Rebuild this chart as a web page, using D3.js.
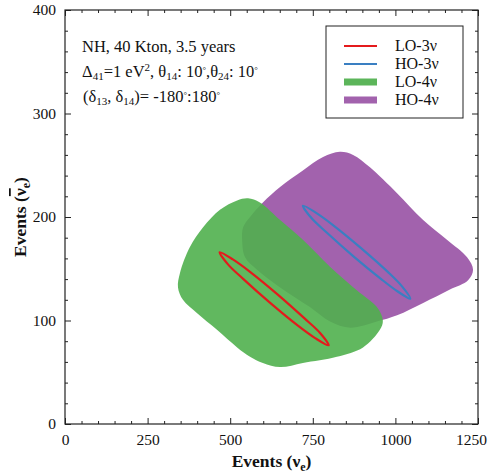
<!DOCTYPE html>
<html>
<head>
<meta charset="utf-8">
<script src="https://cdn.jsdelivr.net/npm/d3@7"></script>
<style>
  body { margin: 0; background: #fff; }
  text { font-family: "Liberation Serif", serif; fill: #111; }
</style>
</head>
<body>
<svg id="chart"></svg>
<script>
// Chart size
const width = 488, height = 473;
const margin = {top: 10, right: 10, bottom: 49, left: 65};

// Axis settings
const xDomain = [0, 1250], yDomain = [0, 400];
const xTicks = [0, 250, 500, 750, 1000, 1250];
const yTicks = [0, 100, 200, 300, 400];

// Region boundaries (events nu_e, events anti-nu_e)
const ho4Boundary = [
  [832, 263], [872, 260], [923, 248], [1005, 223], [1084, 197], [1156, 178],
  [1217, 161], [1235, 149], [1220, 139], [1165, 130], [1084, 117], [1005, 105],
  [944, 99], [863, 93], [802, 99], [741, 113], [651, 132], [581, 149],
  [545, 161], [536, 178], [539, 190], [560, 200], [599, 214], [651, 229],
  [720, 245], [781, 258]
];
const lo4Boundary = [
  [554, 218], [590, 214], [651, 197], [720, 178], [802, 152], [884, 129],
  [944, 113], [962, 100], [953, 91], [902, 74], [823, 65], [720, 59],
  [651, 55], [599, 59], [560, 65], [521, 74], [460, 91], [400, 107],
  [357, 120], [342, 132], [348, 146], [378, 171], [418, 190], [469, 207],
  [521, 216]
];
const lo3Boundary = [
  [468, 166], [508, 159], [560, 147], [644, 125], [725, 102], [772, 88],
  [798, 76], [757, 83], [705, 95], [621, 117], [540, 140], [494, 154]
];
const ho3Boundary = [
  [720, 211], [760, 204], [812, 192], [896, 170], [977, 147], [1020, 133],
  [1045, 121], [1007, 128], [957, 140], [873, 162], [792, 185], [746, 199]
];

// Legend entries
const legendLabels = ["LO-3\u03bd", "HO-3\u03bd", "LO-4\u03bd", "HO-4\u03bd"];
const legendColors = ["#e41a1c", "#3a7fc2", "#5cb55a", "#a262ad"];

const svg = d3.select("#chart")
    .attr("width", width)
    .attr("height", height);

const x = d3.scaleLinear().domain(xDomain).range([margin.left, width - margin.right]);
const y = d3.scaleLinear().domain(yDomain).range([height - margin.bottom, margin.top]);

const area = d3.line()
    .x(d => x(d[0]))
    .y(d => y(d[1]))
    .curve(d3.curveCatmullRomClosed.alpha(0.5));

// Filled regions: purple under green
svg.append("path")
    .attr("d", area(ho4Boundary))
    .attr("fill", "#a262ad");
svg.append("path")
    .attr("d", area(lo4Boundary))
    .attr("fill", "rgb(80,176,78)")
    .attr("opacity", 0.9);

// 3-flavour contours
svg.append("path")
    .attr("d", area(ho3Boundary))
    .attr("fill", "none")
    .attr("stroke", legendColors[1])
    .attr("stroke-width", 2.2);
svg.append("path")
    .attr("d", area(lo3Boundary))
    .attr("fill", "none")
    .attr("stroke", legendColors[0])
    .attr("stroke-width", 2.2);

// Axes with inward ticks on all four sides
const x0 = x(xDomain[0]), x1 = x(xDomain[1]);
const y0 = y(yDomain[0]), y1 = y(yDomain[1]);

const xMinor = d3.range(0, 1251, 50).filter(v => v % 250 !== 0);
const yMinor = d3.range(0, 401, 20).filter(v => v % 100 !== 0);

svg.append("g").attr("transform", `translate(0,${y0})`)
    .call(d3.axisBottom(x).tickValues(xTicks).tickSize(-6).tickPadding(10).tickFormat(d3.format("d")));
svg.append("g").attr("transform", `translate(0,${y0})`)
    .call(d3.axisBottom(x).tickValues(xMinor).tickSize(-3).tickFormat(""));
svg.append("g").attr("transform", `translate(0,${y1})`)
    .call(d3.axisTop(x).tickValues(xTicks).tickSize(-6).tickFormat(""));
svg.append("g").attr("transform", `translate(0,${y1})`)
    .call(d3.axisTop(x).tickValues(xMinor).tickSize(-3).tickFormat(""));

svg.append("g").attr("transform", `translate(${x0},0)`)
    .call(d3.axisLeft(y).tickValues(yTicks).tickSize(-6).tickPadding(9));
svg.append("g").attr("transform", `translate(${x0},0)`)
    .call(d3.axisLeft(y).tickValues(yMinor).tickSize(-3).tickFormat(""));
svg.append("g").attr("transform", `translate(${x1},0)`)
    .call(d3.axisRight(y).tickValues(yTicks).tickSize(-6).tickFormat(""));
svg.append("g").attr("transform", `translate(${x1},0)`)
    .call(d3.axisRight(y).tickValues(yMinor).tickSize(-3).tickFormat(""));

svg.selectAll(".domain").remove();
svg.selectAll(".tick line").attr("stroke", "#222");
svg.selectAll(".tick text")
    .style("font-family", "Liberation Serif, serif")
    .style("font-size", "15.5px")
    .attr("fill", "#222");
// keep the last x label inside the picture
svg.selectAll(".tick text").filter(d => d === 1250).attr("dx", -7);

// Frame
svg.append("rect")
    .attr("x", x0).attr("y", y1)
    .attr("width", x1 - x0).attr("height", y0 - y1)
    .attr("fill", "none")
    .attr("stroke", "#222")
    .attr("stroke-width", 1.2);

// Axis titles
const xt = svg.append("text")
    .attr("x", (x0 + x1) / 2)
    .attr("y", 467)
    .attr("text-anchor", "middle")
    .style("font-size", "17.5px")
    .style("font-weight", "bold");
xt.append("tspan").text("Events (\u03bd");
xt.append("tspan").text("e").attr("dy", 4).style("font-size", "12px");
xt.append("tspan").text(")").attr("dy", -4);

const yt = svg.append("text")
    .attr("transform", `translate(26,${(y0 + y1) / 2}) rotate(-90)`)
    .attr("text-anchor", "middle")
    .style("font-size", "17.5px")
    .style("font-weight", "bold");
yt.append("tspan").text("Events (");
yt.append("tspan").text("\u03bd").style("text-decoration", "overline");
yt.append("tspan").text("e").attr("dy", 4).style("font-size", "12px");
yt.append("tspan").text(")").attr("dy", -4);

// Annotation text
const note = svg.append("g").style("font-size", "16.5px");
note.append("text").attr("x", 82).attr("y", 52).text("NH, 40 Kton, 3.5 years");

const l2 = note.append("text").attr("x", 82).attr("y", 77);
l2.append("tspan").text("\u0394");
l2.append("tspan").text("41").attr("dy", 3).style("font-size", "11px");
l2.append("tspan").text("=1 eV").attr("dy", -3);
l2.append("tspan").text("2").attr("dy", -6).style("font-size", "11px");
l2.append("tspan").text(", \u03b8").attr("dy", 6);
l2.append("tspan").text("14").attr("dy", 3).style("font-size", "11px");
l2.append("tspan").text(": 10").attr("dy", -3);
l2.append("tspan").text("\u00b0").attr("dy", -4).style("font-size", "9px");
l2.append("tspan").text(",\u03b8").attr("dy", 4);
l2.append("tspan").text("24").attr("dy", 3).style("font-size", "11px");
l2.append("tspan").text(": 10").attr("dy", -3);
l2.append("tspan").text("\u00b0").attr("dy", -4).style("font-size", "9px");

const l3 = note.append("text").attr("x", 83).attr("y", 102);
l3.append("tspan").text("(\u03b4");
l3.append("tspan").text("13").attr("dy", 3).style("font-size", "11px");
l3.append("tspan").text(", \u03b4").attr("dy", -3);
l3.append("tspan").text("14").attr("dy", 3).style("font-size", "11px");
l3.append("tspan").text(")= -180").attr("dy", -3);
l3.append("tspan").text("\u00b0").attr("dy", -4).style("font-size", "9px");
l3.append("tspan").text(":180").attr("dy", 4);
l3.append("tspan").text("\u00b0").attr("dy", -4).style("font-size", "9px");

// Legend
const legend = svg.append("g");
legend.append("rect")
    .attr("x", 326).attr("y", 26)
    .attr("width", 137).attr("height", 92)
    .attr("fill", "#fff")
    .attr("stroke", "#222")
    .attr("stroke-width", 1);

const rowY = d3.scalePoint().domain(legendLabels).range([46, 100]);
legendLabels.forEach((label, i) => {
    legend.append("line")
        .attr("x1", 344).attr("x2", 377)
        .attr("y1", rowY(label)).attr("y2", rowY(label))
        .attr("stroke", legendColors[i])
        .attr("stroke-width", i < 2 ? 2 : 7);
    legend.append("text")
        .attr("x", 395).attr("y", rowY(label) + 5)
        .style("font-size", "16px")
        .text(label);
});
</script>
</body>
</html>
